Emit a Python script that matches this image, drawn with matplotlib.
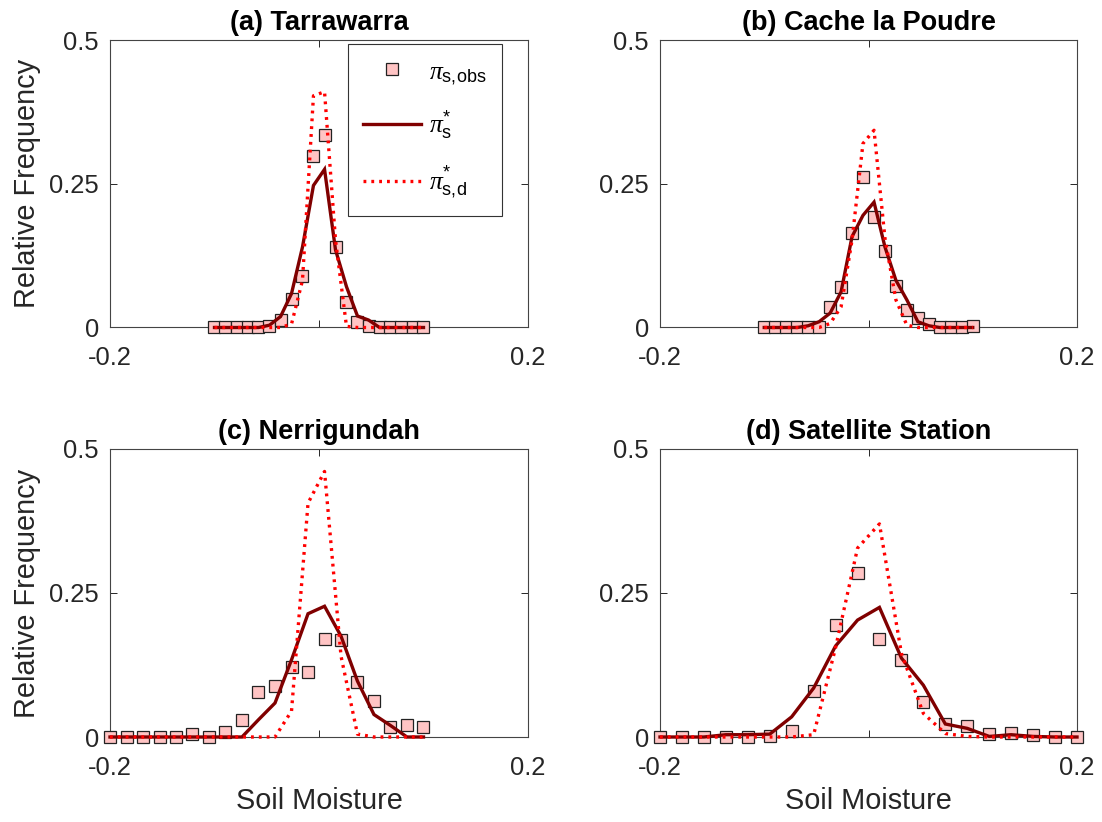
import matplotlib
matplotlib.use('Agg')
import matplotlib.pyplot as plt

plt.rcParams['font.family'] = ['Liberation Sans', 'DejaVu Sans']
plt.rcParams['mathtext.fontset'] = 'custom'
plt.rcParams['mathtext.rm'] = 'Liberation Sans'
plt.rcParams['mathtext.it'] = 'Liberation Serif:italic'
plt.rcParams['mathtext.bf'] = 'Liberation Sans:bold'

# ---------------- data ----------------
titles = ['(a) Tarrawarra', '(b) Cache la Poudre', '(c) Nerrigundah', '(d) Satellite Station']

x_ab = [-0.1, -0.0895, -0.0789, -0.0684, -0.0579, -0.0474, -0.0368, -0.0263, -0.0158, -0.0053,
        0.0053, 0.0158, 0.0263, 0.0368, 0.0474, 0.0579, 0.0684, 0.0789, 0.0895, 0.1]
x_c = [-0.2, -0.1842, -0.1684, -0.1526, -0.1368, -0.1211, -0.1053, -0.0895, -0.0737, -0.0579,
       -0.0421, -0.0263, -0.0105, 0.0053, 0.0211, 0.0368, 0.0526, 0.0684, 0.0842, 0.1]
x_d = [-0.2, -0.1789, -0.1579, -0.1368, -0.1158, -0.0947, -0.0737, -0.0526, -0.0316, -0.0105,
       0.0105, 0.0316, 0.0526, 0.0737, 0.0947, 0.1158, 0.1368, 0.1579, 0.1789, 0.2]

a_obs = [0, 0, 0, 0, 0, 0.003, 0.0125, 0.05, 0.089, 0.298, 0.334, 0.14, 0.044, 0.01, 0.003, 0, 0, 0, 0, 0]
a_sol = [0, 0, 0, 0, 0, 0.004, 0.019, 0.059, 0.140, 0.247, 0.275, 0.135, 0.071, 0.020, 0.013, 0, 0, 0, 0, 0]
a_dot = [0, 0, 0, 0, 0, 0, 0, 0.006, 0.082, 0.403, 0.41, 0.152, 0.002, 0, 0, 0, 0, 0, 0, 0]

b_obs = [0, 0, 0, 0, 0, 0.0014, 0.036, 0.071, 0.165, 0.262, 0.192, 0.133, 0.073, 0.030, 0.016, 0.006, 0, 0, 0, 0.003]
b_sol = [0, 0, 0, 0, 0.003, 0.01, 0.025, 0.062, 0.158, 0.195, 0.218, 0.140, 0.082, 0.048, 0.010, 0.003, 0, 0, 0, 0]
b_dot = [0, 0, 0, 0, 0, 0, 0.007, 0.036, 0.152, 0.32, 0.343, 0.155, 0.048, 0.004, 0, 0, 0, 0, 0, 0]

c_obs = [0, 0, 0, 0, 0, 0.0055, 0, 0.009, 0.030, 0.0786, 0.088, 0.121, 0.113, 0.171, 0.168, 0.096, 0.0625, 0.0168, 0.021, 0.017]
c_sol = [0, 0, 0, 0, 0, 0, 0, 0, 0, 0.03, 0.059, 0.134, 0.214, 0.227, 0.175, 0.097, 0.039, 0.020, 0, 0]
c_dot = [0, 0, 0, 0, 0, 0, 0, 0, 0, 0, 0, 0.045, 0.406, 0.461, 0.14, 0.005, 0, 0, 0, 0]

d_obs = [0, 0, 0, 0, 0, 0.002, 0.011, 0.080, 0.195, 0.285, 0.170, 0.134, 0.061, 0.022, 0.019, 0.006, 0.007, 0.004, 0, 0]
d_sol = [0, 0, 0, 0.004, 0.004, 0.005, 0.035, 0.085, 0.158, 0.203, 0.225, 0.137, 0.090, 0.0226, 0.015, 0.001, 0.004, 0.001, 0, 0]
d_dot = [0, 0, 0, 0, 0, 0, 0, 0.004, 0.155, 0.328, 0.370, 0.145, 0.041, 0.006, 0.001, 0, 0, 0, 0, 0]

xs = [x_ab, x_ab, x_c, x_d]
obs = [a_obs, b_obs, c_obs, d_obs]
sol = [a_sol, b_sol, c_sol, d_sol]
dot = [a_dot, b_dot, c_dot, d_dot]

x_ticks = [-0.2, 0, 0.2]
x_ticklabels = ['-0.2', '', '0.2']
y_ticks = [0, 0.25, 0.5]
y_ticklabels = ['0', '0.25', '0.5']

labels = [r'$\pi_{\mathrm{s,\!obs}}$', r'$\pi^{*}_{\mathrm{s}}$', r'$\pi^{*}_{\mathrm{s,\!d}}$']

# ---------------- figure ----------------
W, H = 1102, 822
fig = plt.figure(figsize=(W / 100, H / 100), dpi=100)

boxes = [(110, 40, 528, 327.5), (660, 40, 1077, 327.5),
         (110, 449, 528, 737), (660, 449, 1077, 737)]

axc = '#262626'
TICK_FS = 18.4
LAB_FS = 20.8
TITLE_FS = 19.5
for i, (l, t, r, b) in enumerate(boxes):
    ax = fig.add_axes([l / W, 1 - b / H, (r - l) / W, (b - t) / H])
    h1, = ax.plot(xs[i], obs[i], linestyle='none', marker='s', markersize=8,
                  markerfacecolor='#FFC4C4', markeredgecolor='#222222',
                  markeredgewidth=0.9, clip_on=False, zorder=3)
    h2, = ax.plot(xs[i], sol[i], color='#800000', lw=2.4, clip_on=False, zorder=4,
                  solid_joinstyle='miter')
    h3, = ax.plot(xs[i], dot[i], color='#FF0000', lw=2.4, linestyle=(0, (0.85, 1.5)),
                  dash_capstyle='butt', clip_on=False, zorder=5)
    ax.set_xlim(-0.2, 0.2)
    ax.set_ylim(0, 0.5)
    ax.set_xticks(x_ticks)
    ax.set_xticklabels(x_ticklabels)
    ax.set_yticks(y_ticks)
    ax.set_yticklabels(y_ticklabels)
    ax.tick_params(direction='in', length=5, width=0.7, colors=axc, labelsize=TICK_FS,
                   top=True, right=True, pad=8)
    ax.tick_params(axis='x', pad=13.5)
    for sp in ax.spines.values():
        sp.set_color('#444444')
        sp.set_linewidth(0.8)
    ax.set_title(titles[i], fontsize=TITLE_FS, fontweight='bold', pad=7.5)
    if i in (0, 2):
        ax.set_ylabel('Relative Frequency', fontsize=LAB_FS, color=axc, labelpad=6)
    if i in (2, 3):
        ax.set_xlabel('Soil Moisture', fontsize=LAB_FS, color=axc, labelpad=5)
    if i == 0:
        leg = ax.legend([h1, h2, h3], labels, loc='upper left',
                        bbox_to_anchor=(0.569, 0.986), fontsize=18.5,
                        handlelength=2.26, handletextpad=0.3, labelspacing=0.9,
                        borderpad=0.6, fancybox=False, framealpha=1,
                        edgecolor='#333333', borderaxespad=0)
        leg.get_frame().set_linewidth(0.8)

fig.savefig('out.png', dpi=100)
